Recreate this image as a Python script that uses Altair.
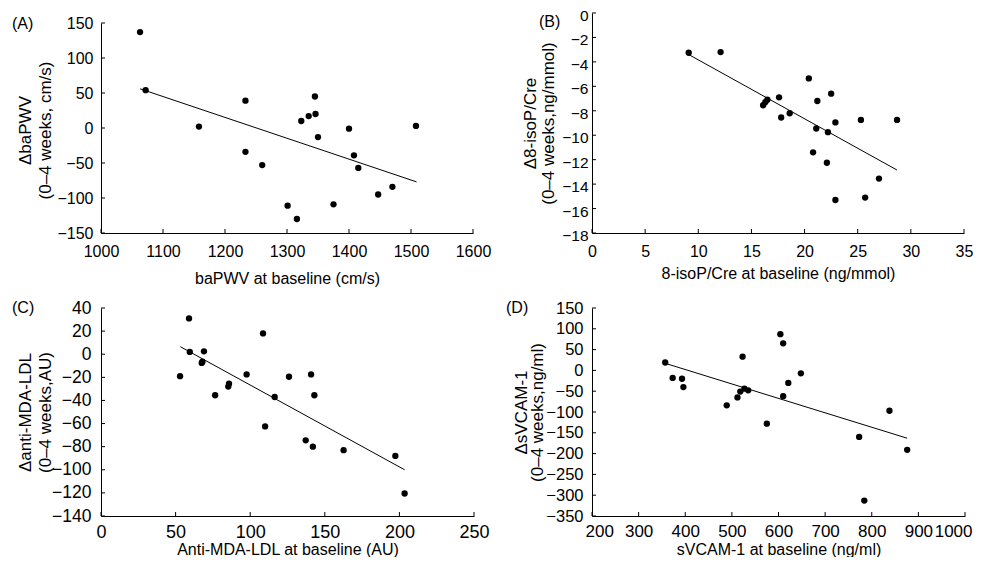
import altair as alt
import pandas as pd

FONT = "Liberation Sans"

# ---------------- data ----------------
a_x = [1063, 1072, 1158, 1233, 1233, 1260, 1301, 1316, 1323, 1335, 1345, 1346, 1350, 1375, 1400, 1408, 1415, 1447, 1470, 1508]
a_y = [137, 54, 2, 39, -34, -53, -111, -130, 10, 17, 45, 20, -13, -109, -1, -39, -57, -95, -84, 3]
a_line_x = [1063, 1509]
a_line_y = [56, -77]

b_x = [9.1, 12.1, 16.1, 16.3, 16.5, 17.6, 17.8, 18.6, 20.4, 20.8, 21.1, 21.2, 22.2, 22.1, 22.5, 22.9, 22.9, 25.3, 25.7, 27.0, 28.7]
b_y = [-3.25, -3.2, -7.55, -7.3, -7.1, -6.9, -8.55, -8.2, -5.35, -11.4, -9.45, -7.2, -9.75, -12.25, -6.6, -8.95, -15.3, -8.75, -15.1, -13.55, -8.75]
b_line_x = [9.1, 28.7]
b_line_y = [-3.4, -12.85]

c_x = [53, 59, 59.5, 67.5, 68, 69, 76.5, 85.3, 85.8, 97.6, 108.6, 110, 116.4, 126, 137.2, 140.8, 142, 143, 162.6, 197.3, 203.5]
c_y = [-19, 31, 2, -7.5, -6.5, 2.5, -35.5, -28, -25.5, -17.5, 18, -62.5, -37, -19.5, -74.5, -17.5, -80, -35.5, -83, -88, -120.5]
c_line_x = [53.2, 203.5]
c_line_y = [6.5, -100]

d_x = [357, 373, 393, 396, 489, 512, 518, 523, 527, 535, 575, 604, 610, 610, 621, 648, 773, 784, 838, 876]
d_y = [19, -18, -20, -40, -84, -65, -51, 33, -44, -48, -128, 87, 65, -62, -30, -7, -160, -313, -97, -191]
d_line_x = [357, 876]
d_line_y = [17, -163]

panels = [
    dict(label="(A)", x=a_x, y=a_y, lx=a_line_x, ly=a_line_y,
         xdom=[1000, 1600], xticks=list(range(1000, 1601, 100)),
         ydom=[-150, 150], yticks=list(range(-150, 151, 50)),
         xtitle="baPWV at baseline (cm/s)",
         ytitle=["\u0394baPWV", "(0\u20134 weeks, cm/s)"],
         W=372, H=220, yrange=[220, 10],
         xlab=16, ylab=16, xpad=10, ypad=8, xty=45, yoff=0, xflush=0,
         ytx=-76, yty=117, ylh=20, lab_x=-89, lab_y=11),
    dict(label="(B)", x=b_x, y=b_y, lx=b_line_x, ly=b_line_y,
         xdom=[0, 35], xticks=list(range(0, 36, 5)),
         ydom=[-18, 0], yticks=list(range(-18, 1, 2)),
         xtitle="8-isoP/Cre at baseline (ng/mmol)",
         ytitle=["\u03948-isoP/Cre", "(0\u20134 weeks,ng/mmol)"],
         W=372, H=220, yrange=[220, 0],
         xlab=16, ylab=15.5, xpad=10, ypad=4, xty=40, yoff=2.5, xflush=0,
         ytx=-62, yty=110, ylh=18, lab_x=-53, lab_y=9),
    dict(label="(C)", x=c_x, y=c_y, lx=c_line_x, ly=c_line_y,
         xdom=[0, 250], xticks=list(range(0, 251, 50)),
         ydom=[-140, 40], yticks=list(range(-140, 41, 20)),
         xtitle="Anti-MDA-LDL at baseline (AU)",
         ytitle=["\u0394anti-MDA-LDL", "(0\u20134 weeks,AU)"],
         W=373, H=208, yrange=[208, 0],
         xlab=18, ylab=17.5, xpad=7, ypad=10, xty=33, yoff=0, xflush=0,
         ytx=-76, yty=104, ylh=20, lab_x=-89, lab_y=0),
    dict(label="(D)", x=d_x, y=d_y, lx=d_line_x, ly=d_line_y,
         xdom=[200, 1000], xticks=list(range(200, 1001, 100)),
         ydom=[-350, 150], yticks=list(range(-350, 151, 50)),
         xtitle="sVCAM-1 at baseline (ng/ml)",
         ytitle=["\u0394sVCAM-1", "(0\u20134 weeks,ng/ml)"],
         W=373, H=208, yrange=[208, 0],
         xlab=17, ylab=16.5, xpad=7, ypad=9, xty=33, yoff=0, xflush=7,
         ytx=-71, yty=104, ylh=16, lab_x=-86, lab_y=0),
]


def make_panel(p):
    W, H = p["W"], p["H"]
    xs = alt.Scale(domain=p["xdom"], nice=False, zero=False)
    ys = alt.Scale(domain=p["ydom"], nice=False, zero=False, range=p["yrange"])
    xflush = dict(labelFlush=True, labelFlushOffset=p["xflush"]) if p["xflush"] else dict(labelFlush=False)
    xax = alt.Axis(values=p["xticks"], format="d", ticks=False, tickSize=0, grid=False,
                   domainColor="black", domainWidth=1,
                   labelFont=FONT, labelFontSize=p["xlab"], labelColor="black",
                   labelPadding=p["xpad"], labelOverlap=False,
                   title=p["xtitle"], titleFont=FONT, titleFontSize=16,
                   titleFontWeight="normal", titleColor="black",
                   titleX=W / 2, titleY=p["xty"], titleBaseline="middle",
                   titleAlign="center", **xflush)
    yax = alt.Axis(values=p["yticks"], format="d", ticks=False, tickSize=0, grid=False,
                   domainColor="black", domainWidth=1,
                   labelFont=FONT, labelFontSize=p["ylab"], labelColor="black",
                   labelPadding=p["ypad"], labelOverlap=False, labelFlush=False,
                   labelOffset=p["yoff"],
                   title=p["ytitle"], titleFont=FONT, titleFontSize=17,
                   titleFontWeight="normal", titleColor="black",
                   titleX=p["ytx"], titleY=p["yty"], titleBaseline="middle",
                   titleAlign="center", titleAngle=270, titleLineHeight=p["ylh"])

    pts = alt.Chart(pd.DataFrame({"x": p["x"], "y": p["y"]})).mark_circle(
        size=40, color="black", opacity=1
    ).encode(x=alt.X("x:Q", scale=xs, axis=xax), y=alt.Y("y:Q", scale=ys, axis=yax))

    line = alt.Chart(pd.DataFrame({"x": p["lx"], "y": p["ly"]})).mark_line(
        color="black", strokeWidth=1
    ).encode(x=alt.X("x:Q", scale=xs, axis=xax), y=alt.Y("y:Q", scale=ys, axis=yax))

    xt = alt.Chart(pd.DataFrame({"x": p["xticks"]})).mark_rule(
        color="black", strokeWidth=1
    ).encode(x=alt.X("x:Q", scale=xs, axis=xax), y=alt.value(H), y2=alt.value(H - 4))

    yt = alt.Chart(pd.DataFrame({"y": p["yticks"]})).mark_rule(
        color="black", strokeWidth=1
    ).encode(y=alt.Y("y:Q", scale=ys, axis=yax), x=alt.value(0), x2=alt.value(4))

    lab = alt.Chart(pd.DataFrame({"label": [p["label"]]})).mark_text(
        align="left", baseline="middle", font=FONT, fontSize=16, color="black"
    ).encode(x=alt.value(p["lab_x"]), y=alt.value(p["lab_y"]), text="label:N")

    return alt.layer(xt, yt, line, pts, lab).properties(width=W, height=H)


charts = [make_panel(p) for p in panels]

chart = alt.concat(
    *charts, columns=2, spacing={"row": 13, "column": 15}
).properties(
    padding={"left": 4, "top": 0, "right": 0, "bottom": 0},
    background="white",
).configure_view(stroke=None)

chart.save("out.html", embed_options={"renderer": "svg", "actions": False})
